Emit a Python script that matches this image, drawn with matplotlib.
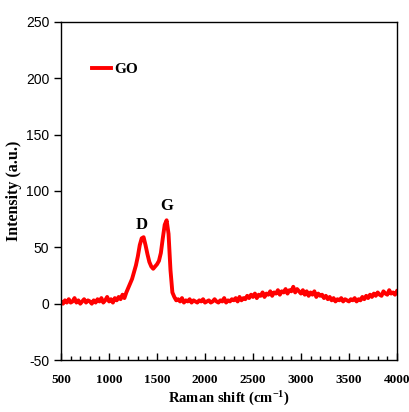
import numpy as np
import matplotlib
matplotlib.use('Agg')
import matplotlib.pyplot as plt

# Raman spectrum of GO, every 20 cm-1
shift_start, shift_end, shift_step = 500, 4000, 20
base_low = [2, 0, 3, 1, 4, 1, 2, 5, 1, 3, 0, 2, 4, 1, 3, 2, 0, 3, 1, 4,
            2, 5, 1, 3, 6, 2, 4, 1, 5, 3, 6]                      # 500-1100
peaks_dg = [4, 8, 5, 10, 14, 18, 22, 28, 34, 42, 52, 58, 59, 52, 44,
            37, 33, 31, 33, 35, 38, 45, 58, 70, 74, 62, 30, 10, 6, 3]  # 1120-1700
base_mid = [4, 2, 5, 1, 3, 2, 4, 1, 3, 2, 1, 3, 2, 4, 1, 2, 3, 1, 2, 4,
            2, 1, 3, 2, 5, 1, 3, 2, 4, 3, 5, 2, 6, 3, 5]          # 1720-2400
band_2d = [4, 7, 5, 8, 6, 9, 5, 8, 7, 10, 6, 9, 8, 11, 7, 10, 9, 12, 8,
           11, 10, 13, 9, 12, 11, 15, 10, 13, 11, 9]              # 2420-3000
base_high = [12, 8, 11, 7, 10, 8, 11, 6, 9, 7, 8, 5, 7, 4, 6, 3, 5, 2, 4, 3,
             5, 2, 4, 3, 2, 4, 3, 5, 2, 4, 3, 6, 4, 7, 5, 8, 6, 9, 7, 10,
             8, 7, 11, 9, 8, 12, 9, 10, 8, 11]                    # 3020-4000

intensity = base_low + peaks_dg + base_mid + band_2d + base_high
shift = np.arange(shift_start, shift_end + 1, shift_step)

peak_labels = ['D', 'G']
peak_pos = [1340, 1600]
peak_text_y = [63, 80]

serif = 'Liberation Serif'
narrow = ['Liberation Sans Narrow', 'Liberation Sans', 'DejaVu Sans']

plt.rcParams['axes.unicode_minus'] = False
plt.rcParams['mathtext.fontset'] = 'custom'
plt.rcParams['mathtext.rm'] = 'Liberation Serif:bold'
plt.rcParams['mathtext.default'] = 'rm'

fig = plt.figure(figsize=(4.1, 4.12), dpi=100)
ax = fig.add_axes([0.149, 0.126, 0.819, 0.821])

ax.plot(shift, intensity, color='#ff0000', lw=2.8, label='GO')

for lab, xp, yp in zip(peak_labels, peak_pos, peak_text_y):
    ax.text(xp, yp, lab, ha='center', va='bottom', fontsize=12,
            fontweight='bold', family=serif)

ax.set_xlim(500, 4000)
ax.set_ylim(-50, 250)
ax.set_xticks(np.arange(500, 4001, 500))
ax.set_xticks(np.arange(500, 4001, 100), minor=True)
ax.set_yticks(np.arange(-50, 251, 50))

ax.tick_params(axis='x', which='both', direction='in', top=False, pad=10)
ax.tick_params(axis='x', which='major', length=5, width=1)
ax.tick_params(axis='x', which='minor', length=3, width=1)
ax.tick_params(axis='y', direction='out', length=5, width=1, right=False)

for lbl in ax.get_xticklabels():
    lbl.set_family(serif)
    lbl.set_fontweight('bold')
    lbl.set_fontsize(9.5)
for lbl in ax.get_yticklabels():
    lbl.set_family(narrow)
    lbl.set_fontsize(10)

for sp in ax.spines.values():
    sp.set_linewidth(1)

ax.set_xlabel('Raman shift (cm$^{-1}$)', family=serif, fontweight='bold',
              fontsize=10.5, labelpad=3)
ax.set_ylabel('Intensity (a.u.)', family=serif, fontweight='bold',
              fontsize=11.5, labelpad=3)

leg = ax.legend(loc='upper left', bbox_to_anchor=(0.05, 0.92), frameon=False,
                handlelength=1.3, handletextpad=0.15,
                prop={'family': serif, 'weight': 'bold', 'size': 11})

fig.savefig('out.png', dpi=100)
